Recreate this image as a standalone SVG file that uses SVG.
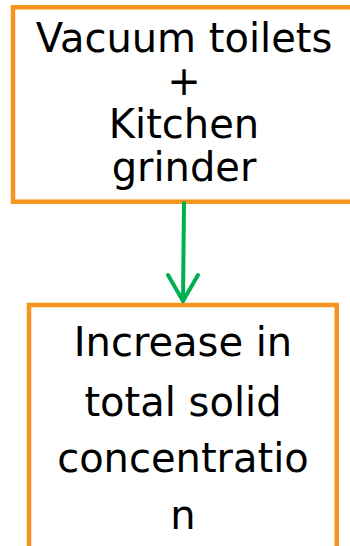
<svg xmlns="http://www.w3.org/2000/svg" width="350" height="546" viewBox="0 0 350 546">
<style>
.box{fill:#fff;stroke:#F7941D;stroke-width:4.5}
.t{font-family:"DejaVu Sans","Verdana",sans-serif;fill:#000;text-anchor:middle}
.conn{fill:none;stroke:#00B050;stroke-width:4;stroke-linecap:round;stroke-linejoin:round}
</style>
<rect width="350" height="546" fill="#fff"/>
<g id="node-vacuum">
<rect class="box" x="13" y="7.3" width="350" height="194.4"/>
<text class="t" font-size="40" x="184" y="52">Vacuum toilets</text>
<text class="t" font-size="40" x="184" y="95">+</text>
<text class="t" font-size="40" x="184" y="138">Kitchen</text>
<text class="t" font-size="40" x="184" y="181">grinder</text>
</g>
<g id="node-increase">
<rect class="box" x="29" y="305" width="307.7" height="260"/>
<text class="t" font-size="40" x="183" y="356">Increase in</text>
<text class="t" font-size="40" x="183" y="416">total solid</text>
<text class="t" font-size="40" x="183" y="472">concentratio</text>
<text class="t" font-size="40" x="183" y="529">n</text>
</g>
<g id="connectors">
<line class="conn" x1="184" y1="203" x2="183" y2="301"/>
<polyline class="conn" points="168,275 183,301 198,275"/>
</g>
</svg>
